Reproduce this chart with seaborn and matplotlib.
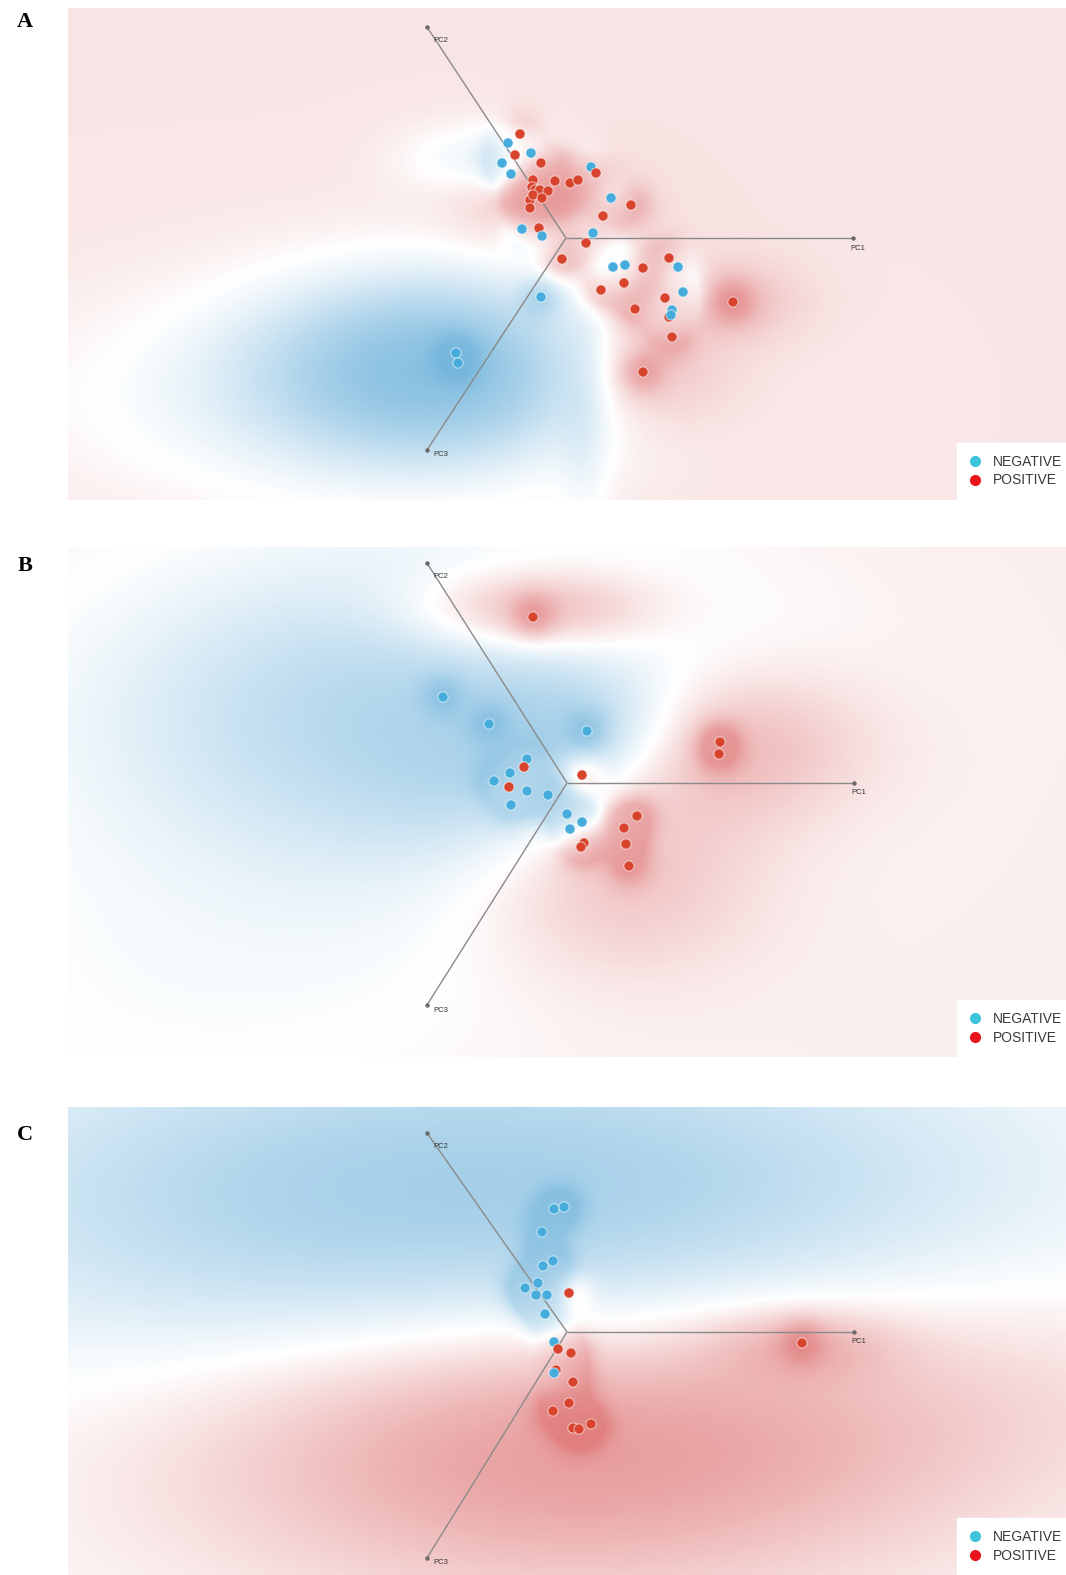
import numpy as np
import pandas as pd
import matplotlib
matplotlib.use("Agg")
import matplotlib.pyplot as plt
import seaborn as sns
from matplotlib.colors import LinearSegmentedColormap
from matplotlib.lines import Line2D

sns.set_theme(style="white")
plt.rcParams["font.family"] = ["Liberation Sans", "DejaVu Sans"]

W, H = 1066, 1575

# ---- shared settings -------------------------------------------------------
pc_names = ["PC1", "PC2", "PC3"]
classes = ["NEGATIVE", "POSITIVE"]
N, P = "NEGATIVE", "POSITIVE"

# ---- panel A: projected sample positions -----------------------------------
A_x = [520, 508, 515, 531, 502, 511, 541, 591, 596, 533, 532, 535, 540, 548,
       555, 570, 578, 530, 533, 542, 530, 611, 631, 603, 522, 539, 542, 593,
       586, 562, 613, 625, 643, 669, 678, 624, 601, 683, 665, 541, 733, 635,
       672, 669, 671, 672, 643, 456, 458]
A_y = [134, 143, 155, 153, 163, 174, 163, 167, 173, 180, 187, 190, 190, 191,
       181, 183, 180, 200, 195, 198, 208, 198, 205, 216, 229, 228, 236, 233,
       243, 259, 267, 265, 268, 258, 267, 283, 290, 292, 298, 297, 302, 309,
       310, 317, 315, 337, 372, 353, 363]
A_cls = [P, N, P, N, N, N, P, N, P, P, P, P, P, P,
         P, P, P, P, P, P, P, N, P, P, N, P, N, N,
         P, P, N, N, P, P, N, P, P, N, P, N, P, P,
         N, P, N, P, P, N, N]
A_box = (68, 8, 1066, 500)
A_origin = (566, 238)
A_tips = [(853, 238), (427, 27), (427, 450)]
A_bias = 0.15
# decision-surface components: (cx, cy, sx, sy, amplitude)
A_surface = [(440, 368, 122, 64, -0.92), (300, 400, 200, 80, -0.22),
             (535, 195, 55, 35, 0.25), (640, 372, 60, 40, 0.30),
             (733, 302, 45, 28, 0.25), (620, 330, 80, 90, 0.10),
             (485, 160, 55, 26, -0.30), (585, 420, 18, 110, -0.15)]

# ---- panel B ----------------------------------------------------------------
B_x = [533, 443, 489, 587, 720, 719, 527, 524, 510, 494, 509, 527, 548, 511,
       582, 567, 582, 570, 637, 624, 626, 584, 581, 629]
B_y = [617, 697, 724, 731, 742, 754, 759, 767, 773, 781, 787, 791, 795, 805,
       775, 814, 822, 829, 816, 828, 844, 843, 847, 866]
B_cls = [P, N, N, N, P, P, N, P, N, N, P, N, N, N,
         P, N, N, N, P, P, P, P, P, P]
B_box = (68, 547, 1066, 1057)
B_origin = (567, 783)
B_tips = [(854, 783), (427, 563), (427, 1005)]
B_bias = 0.10
B_surface = [(410, 715, 220, 115, -0.60), (590, 730, 65, 38, -0.30),
             (520, 790, 90, 50, -0.20), (533, 612, 85, 30, 0.58),
             (725, 745, 95, 55, 0.45), (615, 860, 100, 75, 0.40),
             (200, 990, 260, 120, -0.12)]

# ---- panel C ----------------------------------------------------------------
C_x = [554, 564, 542, 543, 553, 538, 525, 536, 547, 569, 545, 554, 558, 571,
       556, 554, 573, 569, 553, 573, 579, 591, 802]
C_y = [1209, 1207, 1232, 1266, 1261, 1283, 1288, 1295, 1295, 1293, 1314,
       1342, 1349, 1353, 1370, 1373, 1382, 1403, 1411, 1428, 1429, 1424, 1343]
C_cls = [N, N, N, N, N, N, N, N, N, P, N, N, P, P, P, N, P, P, P, P, P, P, P]
C_box = (68, 1107, 1066, 1575)
C_origin = (567, 1332)
C_tips = [(854, 1332), (427, 1133), (427, 1558)]
C_bias = 0.0
C_surface = [(560, 1195, 320, 110, -0.55), (230, 1210, 260, 120, -0.20),
             (570, 1440, 250, 100, 0.55), (560, 1510, 360, 110, 0.12),
             (802, 1343, 65, 26, 0.30), (960, 1380, 220, 90, 0.16)]

# ---- styling ----------------------------------------------------------------
neg_color = "#45ACDC"
pos_color = "#D8432E"
legend_neg = "#3EC4DA"
legend_pos = "#E8141B"
surface_cmap = LinearSegmentedColormap.from_list(
    "surface", [(0.0, "#5FAAD7"), (0.5, "#FFFFFF"), (1.0, "#D75555")])


def surface_grid(box, bias, comps, xs, ys, cls, step=2):
    x0, y0, x1, y1 = box
    gx = np.arange(x0, x1, step) + step / 2
    gy = np.arange(y0, y1, step) + step / 2
    X, Y = np.meshgrid(gx, gy)
    F = np.full(X.shape, bias, dtype=float)
    for cx, cy, sx, sy, amp in comps:
        F += amp * np.exp(-0.5 * (((X - cx) / sx) ** 2 + ((Y - cy) / sy) ** 2))
    # local class vote around each sample, bounded so clusters do not saturate
    sign = np.where(np.asarray(cls) == P, 1.0, -1.0)
    vote = np.zeros_like(F)
    weight = np.zeros_like(F)
    for px, py, s in zip(xs, ys, sign):
        k = np.exp(-0.5 * ((X - px) ** 2 + (Y - py) ** 2) / 15 ** 2)
        vote += s * k
        weight += k
    F += 0.35 * vote / np.maximum(1.0, weight)
    return np.tanh(F)


fig = plt.figure(figsize=(W / 100, H / 100), dpi=100)
fig.patch.set_facecolor("white")

panels = [
    ("A", A_x, A_y, A_cls, A_box, A_origin, A_tips, A_bias, A_surface, 22),
    ("B", B_x, B_y, B_cls, B_box, B_origin, B_tips, B_bias, B_surface, 566),
    ("C", C_x, C_y, C_cls, C_box, C_origin, C_tips, C_bias, C_surface, 1135),
]

label_offsets = [(5, 10), (14, 14), (14, 5)]

for letter, xs, ys, cls, box, origin, tips, bias, comps, ly in panels:
    x0, y0, x1, y1 = box
    ax = fig.add_axes([x0 / W, 1 - y1 / H, (x1 - x0) / W, (y1 - y0) / H])
    T = surface_grid(box, bias, comps, xs, ys, cls)
    ax.imshow(T, extent=(x0, x1, y1, y0), cmap=surface_cmap, vmin=-1, vmax=1,
              interpolation="bilinear", aspect="auto", zorder=0)

    # principal-component axes
    for name, (tx, ty), (dx, dy) in zip(pc_names, tips, label_offsets):
        ax.plot([origin[0], tx], [origin[1], ty], color="#8A8A8A", lw=1.0,
                zorder=2, solid_capstyle="butt")
        ax.plot([tx], [ty], marker="o", ms=2.2, color="#6A6A6A", zorder=2)
        ax.text(tx + dx, ty + dy, name, fontsize=5.5, color="#333333",
                ha="center", va="center", zorder=2)

    df = pd.DataFrame({"x": xs, "y": ys, "cls": cls})
    sns.scatterplot(data=df, x="x", y="y", hue="cls", hue_order=classes,
                    palette={N: neg_color, P: pos_color}, s=54,
                    edgecolor=(1, 1, 1, 0.5), linewidth=0.9, legend=False,
                    ax=ax, zorder=3)

    ax.set_xlim(x0, x1)
    ax.set_ylim(y1, y0)
    ax.axis("off")

    handles = [
        Line2D([], [], ls="", marker="o", ms=8, markerfacecolor=legend_neg,
               markeredgecolor="none", label="NEGATIVE"),
        Line2D([], [], ls="", marker="o", ms=8, markerfacecolor=legend_pos,
               markeredgecolor="none", label="POSITIVE"),
    ]
    leg = ax.legend(handles=handles, loc="lower right",
                    bbox_to_anchor=(1 + 9 / (x1 - x0), 0),
                    borderaxespad=0, frameon=True, fancybox=False,
                    framealpha=1, facecolor="white", edgecolor="white",
                    fontsize=10, handlelength=0.8, handletextpad=0.9,
                    labelspacing=0.3, borderpad=0.9)
    for t in leg.get_texts():
        t.set_color("#3A3A3A")

    fig.text(25 / W, 1 - ly / H, letter, fontsize=16, fontweight="bold",
             family=["Liberation Serif", "DejaVu Serif"], ha="center",
             va="center", color="black")

fig.savefig("out.png", dpi=100, facecolor="white")
